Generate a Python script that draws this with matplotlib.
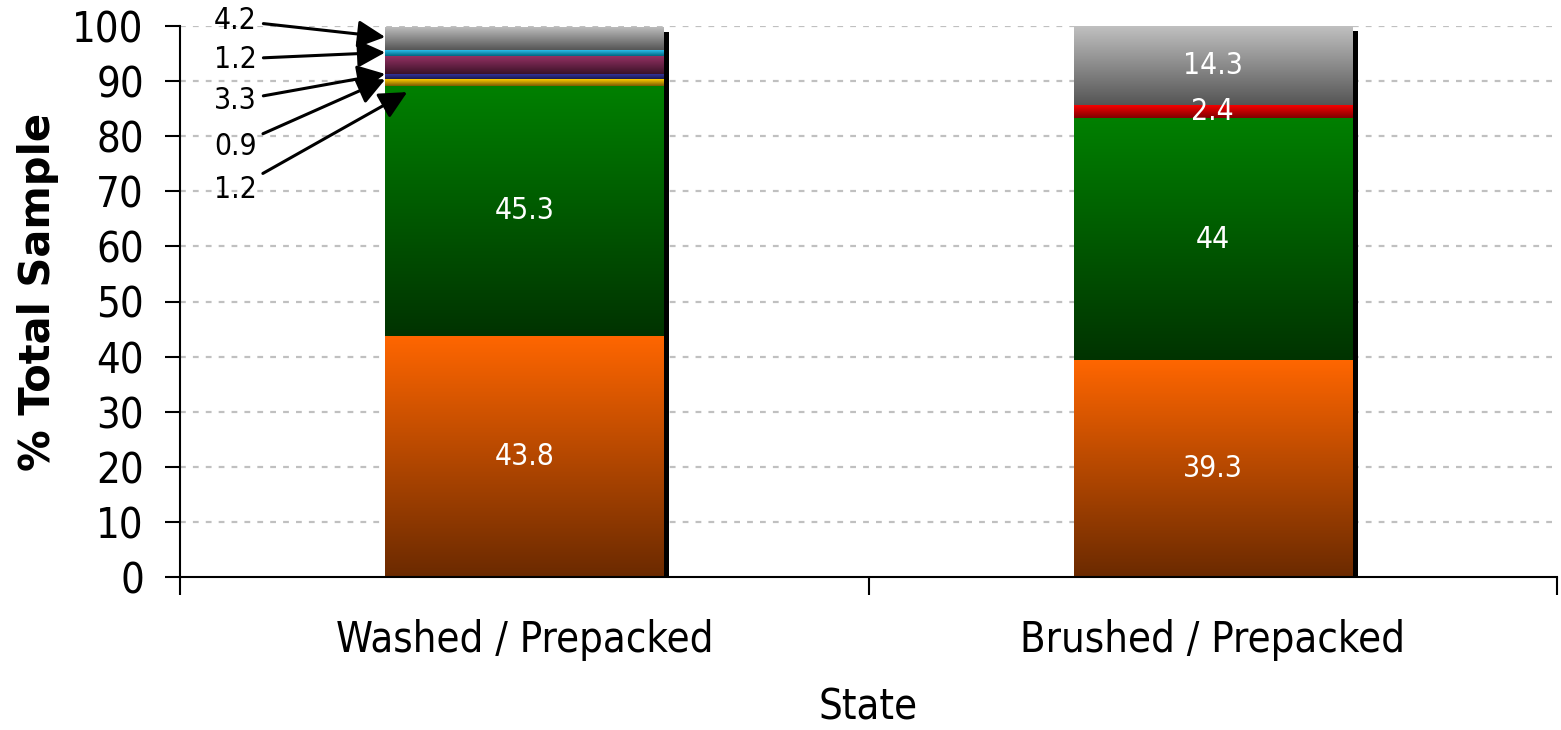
import numpy as np
import matplotlib
matplotlib.use("Agg")
import matplotlib.pyplot as plt
import matplotlib.transforms as mtransforms
from matplotlib.colors import to_rgb

# ---- data ----
states = ["Washed / Prepacked", "Brushed / Prepacked"]
washed_values = [43.8, 45.3, 1.2, 0.9, 3.3, 1.2, 4.2]
brushed_values = [39.3, 44.0, 2.4, 14.3]

# (top colour, bottom colour) for each stacked segment
washed_colors = [("#FF6600", "#6B2A00"), ("#008000", "#003300"),
                 ("#FFCC00", "#7A5A00"), ("#333399", "#1A1A4D"),
                 ("#993366", "#3A1228"), ("#33CCFF", "#006680"),
                 ("#C0C0C0", "#555555")]
brushed_colors = [("#FF6600", "#6B2A00"), ("#008000", "#003300"),
                  ("#FF0000", "#800000"), ("#C0C0C0", "#555555")]

# values printed inside the bars
washed_inside = [True, True, False, False, False, False, False]
brushed_inside = [True, True, True, True]

# small washed segments labelled with arrows: (text x, text y, tip x, tip y)
callouts = [("4.2", -0.42, 101.0, -0.202, 98.0),
            ("1.2", -0.42, 94.0, -0.202, 95.2),
            ("3.3", -0.42, 86.4, -0.202, 91.3),
            ("0.9", -0.42, 78.2, -0.202, 90.3),
            ("1.2", -0.42, 70.4, -0.170, 88.0)]

FONT = dict(family="DejaVu Sans", stretch="condensed")

fig = plt.figure(figsize=(15.61, 7.30), dpi=100)
ax = fig.add_axes([180 / 1561, 153 / 730, 1377 / 1561, 551 / 730])
ax.set_xlim(-0.5, 1.5)
ax.set_ylim(0, 100)

bar_width = 0.404
x_pos = np.arange(len(states))

# grid
for yv in range(10, 101, 10):
    ax.axhline(yv, color="#C0C0C0", lw=1.6, linestyle=(0, (2.6, 3.2)), zorder=0)

# drop shadow behind each bar
shadow_tf = mtransforms.offset_copy(ax.transData, fig=fig, x=6, y=-5, units="dots")
for xi, vals in zip(x_pos, [washed_values, brushed_values]):
    ax.bar(xi, sum(vals), width=bar_width, color="black", transform=shadow_tf,
           zorder=1, linewidth=0)


def gradient_fill(patch, top, bottom):
    x0, y0 = patch.get_x(), patch.get_y()
    w, h = patch.get_width(), patch.get_height()
    t = np.linspace(0, 1, 256)[:, None, None]
    c0 = np.array(to_rgb(bottom))[None, None, :]
    c1 = np.array(to_rgb(top))[None, None, :]
    img = c0 + (c1 - c0) * t
    im = ax.imshow(img, extent=(x0, x0 + w, y0, y0 + h), origin="lower",
                   aspect="auto", interpolation="bilinear", zorder=2)
    im.set_clip_path(patch)


for xi, vals, cols, inside in [(0, washed_values, washed_colors, washed_inside),
                               (1, brushed_values, brushed_colors, brushed_inside)]:
    bottom = 0.0
    for v, (top_c, bot_c), show in zip(vals, cols, inside):
        bars = ax.bar(xi, v, width=bar_width, bottom=bottom, color="none",
                      linewidth=0, zorder=2)
        patch = bars.patches[0]
        gradient_fill(patch, top_c, bot_c)
        if show:
            ax.text(xi, bottom + v / 2, f"{v:g}", color="white", ha="center",
                    va="center", fontsize=21.5, zorder=4, **FONT)
        bottom += v

ax.set_xlim(-0.5, 1.5)
ax.set_ylim(0, 100)

# callout labels with arrows
for label, tx, ty, ax_x, ax_y in callouts:
    ax.annotate(label, xy=(ax_x, ax_y), xytext=(tx, ty), ha="center", va="center",
                fontsize=21.5, annotation_clip=False, zorder=5,
                arrowprops=dict(arrowstyle="-|>", color="black", lw=2.2,
                                mutation_scale=42, shrinkA=3, shrinkB=0),
                **FONT)

# axes styling
for side in ["top", "right"]:
    ax.spines[side].set_visible(False)
for side in ["left", "bottom"]:
    ax.spines[side].set_linewidth(1.5)
    ax.spines[side].set_zorder(6)

ax.set_yticks(range(0, 101, 10))
ax.tick_params(axis="y", direction="out", length=11, width=1.5, labelsize=30, pad=15)
ax.set_xticks(x_pos)
ax.set_xticklabels(states)
ax.tick_params(axis="x", which="major", length=0, labelsize=30, pad=30)
ax.set_xticks([-0.5, 0.5, 1.5], minor=True)
ax.tick_params(axis="x", which="minor", direction="out", length=13, width=1.5)
for lab in ax.get_xticklabels() + ax.get_yticklabels():
    lab.set_fontstretch("condensed")

ax.set_xlabel("State", fontsize=30, **FONT)
ax.xaxis.set_label_coords(0.5, (577 - 707) / 551)
ax.xaxis.label.set_va("center")
ax.set_ylabel("% Total Sample", fontsize=30, fontweight="bold", family="DejaVu Sans")
ax.yaxis.set_label_coords((38 - 180) / 1377, (577 - 292) / 551)
ax.yaxis.label.set_va("center")

fig.savefig("out.png", dpi=100)
